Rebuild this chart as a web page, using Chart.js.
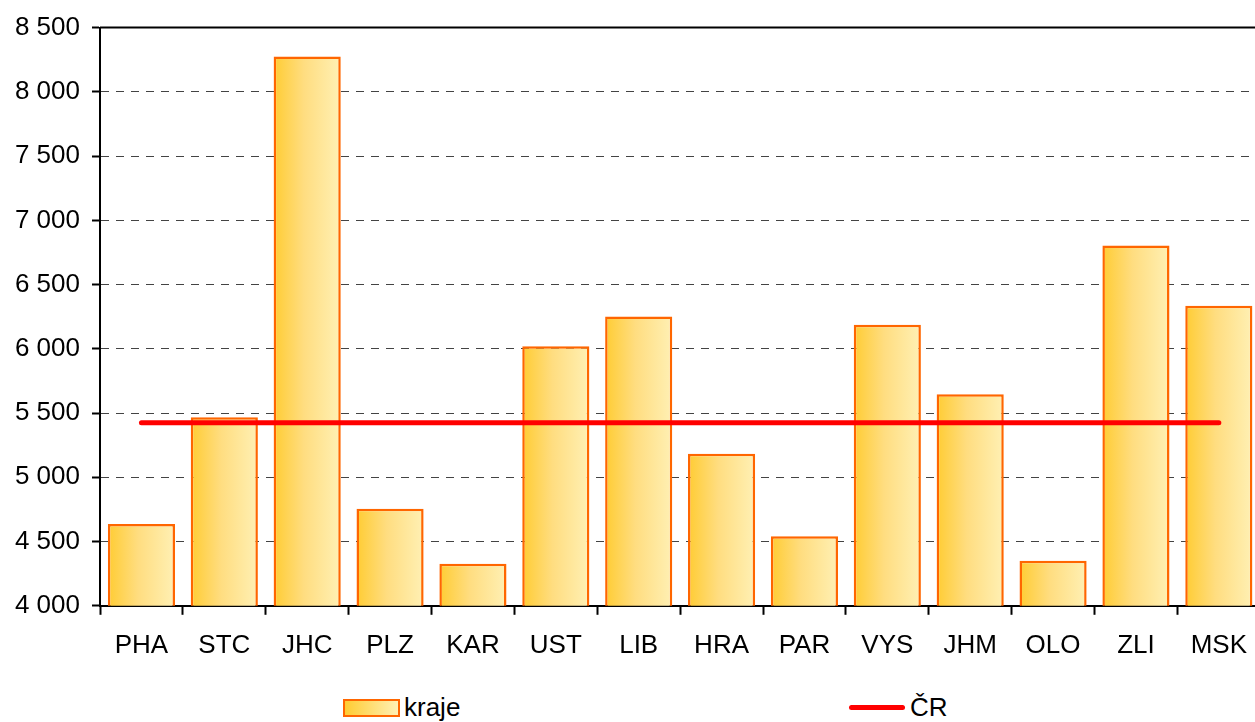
<!DOCTYPE html>
<html lang="cs">
<head>
    <meta charset="UTF-8">
    <title>Kraje</title>
    <script src="https://cdn.jsdelivr.net/npm/chart.js"></script>
    <style>
        body {
            margin: 0;
            background: #fff;
            font-family: "Liberation Sans", Arial, sans-serif;
            overflow: hidden;
            width: 1255px;
            height: 722px;
            position: relative;
        }

        #chart {
            position: absolute;
            left: 0;
            top: 0;
        }

        .legend-item {
            position: absolute;
            top: 692px;
            font-size: 26px;
            color: #000;
            display: flex;
            align-items: center;
        }

        .swatch-bar {
            width: 53px;
            height: 14px;
            border: 2px solid #FF6600;
            background: linear-gradient(to right, #FFCC33, #FFF0B4);
            margin-right: 4px;
        }

        .swatch-line {
            width: 56px;
            height: 5px;
            border-radius: 3px;
            background: #FF0000;
            margin-right: 5px;
        }
    </style>
</head>
<body>
    <canvas id="chart" width="1262" height="676"></canvas>

    <div class="legend-item" style="left: 343px;"><span class="swatch-bar"></span>kraje</div>
    <div class="legend-item" style="left: 849px;"><span class="swatch-line"></span>ČR</div>

    <script>
        // data
        const categories = ['PHA', 'STC', 'JHC', 'PLZ', 'KAR', 'UST', 'LIB', 'HRA', 'PAR', 'VYS', 'JHM', 'OLO', 'ZLI', 'MSK'];
        const kraje = [4637, 5467, 8276, 4755, 4327, 6020, 6252, 5183, 4541, 6188, 5647, 4350, 6804, 6335];
        const cr = [5425, 5425, 5425, 5425, 5425, 5425, 5425, 5425, 5425, 5425, 5425, 5425, 5425, 5425];
        const yMin = 4000;
        const yMax = 8500;
        const yStep = 500;

        const barPct = 0.81;

        // gradient per bar, left to right
        function barFill(ctx) {
            const chart = ctx.chart;
            const xs = chart.scales.x;
            if (!xs || !chart.chartArea || ctx.type !== 'data') return '#FFDD77';
            const c = xs.getPixelForValue(ctx.dataIndex);
            const half = (xs.width / categories.length) * barPct / 2;
            const g = chart.ctx.createLinearGradient(c - half, 0, c + half, 0);
            g.addColorStop(0, '#FFCC33');
            g.addColorStop(0.45, '#FFDD80');
            g.addColorStop(1, '#FFF0B4');
            return g;
        }

        // solid line at the top of the plot
        const topLine = {
            id: 'topLine',
            beforeDatasetsDraw(chart) {
                const a = chart.chartArea;
                const c = chart.ctx;
                c.save();
                c.strokeStyle = '#000';
                c.lineWidth = 2;
                c.beginPath();
                c.moveTo(a.left, a.top);
                c.lineTo(a.right, a.top);
                c.stroke();
                c.restore();
            }
        };

        Chart.defaults.font.family = '"Liberation Sans", Arial, sans-serif';
        Chart.defaults.font.size = 26;
        Chart.defaults.color = '#000';

        new Chart(document.getElementById('chart'), {
            type: 'bar',
            data: {
                labels: categories,
                datasets: [
                    {
                        type: 'line',
                        label: 'ČR',
                        data: cr,
                        borderColor: '#FF0000',
                        borderWidth: 5,
                        borderCapStyle: 'round',
                        pointRadius: 0,
                        fill: false,
                        order: 0
                    },
                    {
                        label: 'kraje',
                        data: kraje,
                        backgroundColor: barFill,
                        borderColor: '#FF6600',
                        borderWidth: 2.5,
                        borderSkipped: false,
                        barPercentage: barPct,
                        categoryPercentage: 1,
                        order: 1
                    }
                ]
            },
            plugins: [topLine],
            options: {
                responsive: false,
                animation: false,
                layout: { padding: { top: 24, left: 0, right: 0, bottom: 0 } },
                plugins: {
                    legend: { display: false },
                    tooltip: { enabled: false }
                },
                scales: {
                    x: {
                        grid: {
                            offset: true,
                            drawOnChartArea: false,
                            tickLength: 9,
                            tickWidth: 2,
                            tickColor: '#000'
                        },
                        border: { color: '#000', width: 2 },
                        ticks: { padding: 15, maxRotation: 0, autoSkip: false }
                    },
                    y: {
                        min: yMin,
                        max: yMax,
                        afterFit(scale) { scale.width = 100; },
                        grid: {
                            color: '#444',
                            lineWidth: 1,
                            tickLength: 8,
                            tickWidth: 2,
                            tickColor: '#000'
                        },
                        border: { color: '#000', width: 2, dash: [8, 7] },
                        ticks: {
                            stepSize: yStep,
                            padding: 12,
                            callback: function (v) {
                                const th = Math.floor(v / 1000);
                                const rest = String(v % 1000).padStart(3, '0');
                                return th + ' ' + rest;
                            }
                        }
                    }
                }
            }
        });
    </script>
</body>
</html>
